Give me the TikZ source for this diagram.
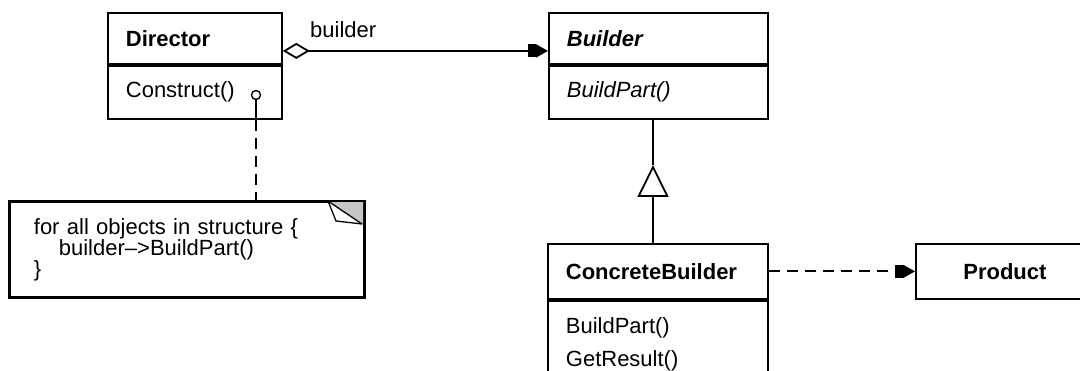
\documentclass[tikz,border=0pt]{standalone}
\usepackage{fontspec}
\setmainfont{Liberation Sans}
\usetikzlibrary{arrows.meta}
\tikzset{
  cls/.style={draw, line width=1.8pt, rectangle, anchor=north west, align=left,
    inner xsep=18pt, inner ysep=0pt, text width=#1,
    font=\fontsize{22pt}{26pt}\selectfont},
  plainbox/.style={draw, line width=1.8pt, rectangle, anchor=north west, align=center,
    inner sep=0pt, font=\fontsize{22pt}{26pt}\selectfont},
  conn/.style={line width=1.8pt},
  dashpat/.style={dash pattern=on 11pt off 7pt},
}
\begin{document}
\begin{tikzpicture}[x=1pt,y=-1pt]
\useasboundingbox (0,0) rectangle (1080,371);
\clip (0,0) rectangle (1080,371);
\fill[white] (0,0) rectangle (1080,371);

% Director
\node[cls=138pt, minimum height=51pt] (dir) at (107,12) {\textbf{Director}};
\node[cls=138pt, minimum height=53pt] (dirops) at (dir.south west) {Construct()};

% Builder
\node[cls=183pt, minimum height=51pt] (bld) at (548,12) {\textbf{\textit{Builder}}};
\node[cls=183pt, minimum height=53pt] (bldops) at (bld.south west) {\textit{BuildPart()}};

% ConcreteBuilder
\node[cls=184pt, minimum height=55pt] (cb) at (547,243) {\textbf{ConcreteBuilder}};
\node[cls=184pt, minimum height=87pt, font=\fontsize{22pt}{33pt}\selectfont] (cbops) at (cb.south west) {BuildPart()\\GetResult()};

% Product
\node[plainbox, minimum width=178pt, minimum height=55pt] (prod) at (915,243) {\textbf{Product}};

% Note
\node[cls=306pt, inner xsep=24pt, minimum height=95pt, font=\fontsize{22pt}{21pt}\selectfont] (note) at (9,201)
  {for all objects in structure \{\\\hspace*{25pt}builder--{}>BuildPart()\\\}};
\fill[gray!45] (328,201) -- (363,201) -- (363,224) -- cycle;
\draw[line width=1.3pt, fill=white, line join=round] (328,201) -- (336,221) -- (362,224) -- cycle;
\draw[line width=1.8pt] (note.north west) rectangle (note.south east);

% aggregation Director -> Builder
\draw[conn, {Diamond[open,length=27pt,width=16pt]}-{Square[length=8pt,width=13pt,sep=0pt]Triangle[length=12pt,width=13pt,sep=0pt]}]
  ([yshift=-12.5pt]dir.east) -- ([yshift=-12.5pt]bld.west);
\node[anchor=west, inner sep=0pt, font=\fontsize{22pt}{26pt}\selectfont] (lbl) at (310,30) {builder};

% inheritance
\coordinate (tri) at (653,165);
\draw[conn] (tri |- bldops.south) -- (tri);
\draw[conn, -{Triangle[open,length=32pt,width=31pt]}] (cb.north -| tri) -- (tri);

% dependency ConcreteBuilder -> Product
\draw[conn, dashpat, -{Square[length=8pt,width=13pt,sep=0pt]Triangle[length=12pt,width=13pt,sep=0pt]}] (cb.east) -- (prod.west);

% note link
\node[draw, line width=1.4pt, circle, minimum size=9pt, inner sep=0pt, fill=white] (dot) at (256,95) {};
\draw[conn] (dot.south) -- (dirops.south -| dot);
\draw[conn, dashpat] (dirops.south -| dot) -- (note.north -| dot);
\end{tikzpicture}
\end{document}
